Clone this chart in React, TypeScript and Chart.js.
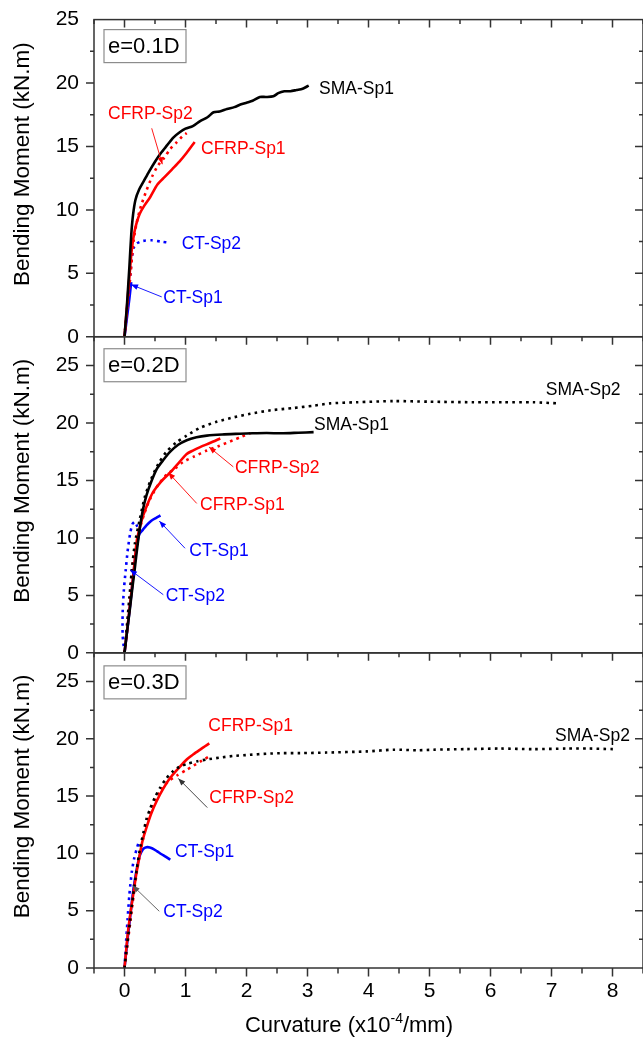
import React, { useEffect, useRef } from 'react';
import { Chart, registerables } from 'chart.js';

Chart.register(...registerables);

const FONT = '"Liberation Sans", Arial, Helvetica, sans-serif';

// ---- axes / labels ----
const xTickValues = [0, 1, 2, 3, 4, 5, 6, 7, 8];
const yTickValues = [0, 5, 10, 15, 20, 25];
const panelTitles = ['e=0.1D', 'e=0.2D', 'e=0.3D'];
const yAxisTitle = 'Bending Moment (kN.m)';
const xAxisTitleMain = 'Curvature (x10';
const xAxisTitleSup = '-4';
const xAxisTitleEnd = '/mm)';

// ---- Panel 1: e=0.1D ----
const p1SmaSp1X = [0, 0.04, 0.08, 0.11, 0.14, 0.18, 0.24, 0.32, 0.4, 0.5, 0.6, 0.7, 0.8, 0.9, 1.0, 1.12, 1.24, 1.36, 1.46, 1.56, 1.68, 1.8, 1.9, 2.0, 2.1, 2.22, 2.32, 2.44, 2.52, 2.62, 2.72, 2.82, 2.92, 3.02];
const p1SmaSp1Y = [0, 2.5, 5.5, 8.0, 9.6, 10.8, 11.6, 12.3, 13.0, 13.8, 14.5, 15.1, 15.7, 16.1, 16.4, 16.6, 17.0, 17.3, 17.7, 17.75, 17.95, 18.1, 18.3, 18.45, 18.6, 18.9, 18.9, 18.95, 19.2, 19.35, 19.35, 19.45, 19.55, 19.8];
const p1CfrpSp1X = [0, 0.04, 0.08, 0.12, 0.16, 0.2, 0.25, 0.32, 0.42, 0.54, 0.66, 0.78, 0.9, 1.02, 1.15];
const p1CfrpSp1Y = [0, 2.3, 4.7, 6.9, 8.2, 9.0, 9.7, 10.3, 11.0, 12.0, 12.6, 13.2, 13.8, 14.5, 15.35];
const p1CfrpSp2X = [0, 0.05, 0.1, 0.15, 0.2, 0.27, 0.35, 0.45, 0.55, 0.65, 0.75, 0.85, 0.95, 1.02];
const p1CfrpSp2Y = [0, 2.6, 5.0, 7.6, 9.0, 10.3, 11.4, 12.6, 13.5, 14.1, 14.8, 15.3, 15.8, 16.05];
const p1CtSp1X = [0, 0.04, 0.08, 0.11];
const p1CtSp1Y = [0, 1.5, 3.0, 4.3];
const p1CtSp2X = [0, 0.03, 0.06, 0.09, 0.12, 0.15, 0.2, 0.3, 0.45, 0.6, 0.75];
const p1CtSp2Y = [0, 1.5, 3.0, 4.6, 6.2, 7.0, 7.35, 7.55, 7.6, 7.5, 7.4];

// ---- Panel 2: e=0.2D ----
const p2SmaSp2X = [0, 0.04, 0.08, 0.12, 0.17, 0.25, 0.33, 0.42, 0.55, 0.69, 0.85, 1.02, 1.25, 1.51, 1.8, 2.06, 2.4, 2.77, 3.1, 3.37, 3.8, 4.41, 5.0, 5.72, 6.2, 6.7, 7.11];
const p2SmaSp2Y = [0, 2.4, 4.8, 7.2, 9.5, 11.6, 13.5, 14.9, 16.4, 17.5, 18.3, 18.9, 19.6, 20.1, 20.5, 20.8, 21.1, 21.3, 21.5, 21.7, 21.8, 21.9, 21.85, 21.8, 21.8, 21.8, 21.7];
const p2SmaSp1X = [0, 0.05, 0.09, 0.13, 0.17, 0.21, 0.25, 0.3, 0.36, 0.44, 0.53, 0.64, 0.75, 0.88, 1.02, 1.18, 1.35, 1.6, 1.89, 2.1, 2.33, 2.6, 2.85, 3.1];
const p2SmaSp1Y = [0, 2.2, 3.9, 5.7, 7.4, 9.2, 10.8, 12.4, 13.7, 14.9, 16.0, 16.8, 17.5, 18.1, 18.5, 18.75, 18.9, 19.0, 19.06, 19.1, 19.12, 19.1, 19.15, 19.2];
const p2CfrpSp1X = [0, 0.05, 0.12, 0.16, 0.2, 0.25, 0.31, 0.39, 0.47, 0.6, 0.75, 0.9, 1.02, 1.12, 1.24, 1.4, 1.57];
const p2CfrpSp1Y = [0, 2.3, 5.6, 7.6, 9.7, 10.9, 12.0, 13.1, 14.0, 14.9, 15.7, 16.6, 17.3, 17.6, 17.9, 18.25, 18.65];
const p2CfrpSp2X = [0, 0.06, 0.14, 0.2, 0.25, 0.33, 0.42, 0.55, 0.69, 0.82, 0.96, 1.15, 1.35, 1.55, 1.78, 1.92, 2.06];
const p2CfrpSp2Y = [0, 2.8, 7.9, 9.5, 10.8, 12.2, 13.4, 14.6, 15.5, 16.0, 16.6, 17.1, 17.6, 18.0, 18.5, 18.8, 19.1];
const p2CtSp1X = [0, 0.05, 0.1, 0.15, 0.2, 0.24, 0.3, 0.36, 0.44, 0.52, 0.59];
const p2CtSp1Y = [0, 2.2, 4.5, 7.0, 9.2, 10.3, 10.7, 11.1, 11.5, 11.75, 11.95];
const p2CtSp2X = [0, -0.03, -0.03, -0.01, 0.02, 0.05, 0.09, 0.13, 0.17, 0.2, 0.24, 0.28];
const p2CtSp2Y = [0, 1.5, 3.5, 5.5, 7.2, 8.8, 10.3, 11.2, 11.4, 11.1, 10.6, 10.1];

// ---- Panel 3: e=0.3D ----
const p3SmaSp2X = [0, 0.04, 0.09, 0.14, 0.2, 0.26, 0.31, 0.36, 0.42, 0.5, 0.58, 0.68, 0.8, 0.9, 1.02, 1.2, 1.35, 1.55, 1.78, 2.05, 2.33, 2.6, 2.88, 3.31, 3.97, 4.41, 4.8, 5.06, 5.6, 6.16, 6.7, 7.25, 7.6, 8.01];
const p3SmaSp2Y = [0, 1.9, 4.1, 6.3, 8.6, 10.6, 11.8, 13.0, 13.9, 14.9, 15.7, 16.5, 17.2, 17.55, 17.8, 18.05, 18.2, 18.35, 18.5, 18.6, 18.7, 18.75, 18.75, 18.8, 18.9, 19.05, 19.0, 19.05, 19.1, 19.15, 19.1, 19.15, 19.15, 19.1];
const p3CfrpSp1X = [0, 0.03, 0.06, 0.1, 0.14, 0.19, 0.25, 0.3, 0.36, 0.44, 0.53, 0.64, 0.75, 0.88, 1.02, 1.13, 1.24, 1.32, 1.39];
const p3CfrpSp1Y = [0, 1.7, 3.3, 4.9, 6.3, 8.1, 9.9, 11.2, 12.25, 13.5, 14.6, 15.7, 16.6, 17.4, 18.2, 18.65, 19.06, 19.35, 19.6];
const p3CfrpSp2X = [0, 0.09, 0.2, 0.31, 0.42, 0.58, 0.72, 0.86, 1.02, 1.13, 1.24, 1.32, 1.4];
const p3CfrpSp2Y = [0, 3.8, 8.3, 11.4, 13.6, 15.4, 16.3, 16.8, 17.3, 17.65, 18.0, 18.25, 18.5];
const p3CtSp1X = [0, 0.05, 0.1, 0.15, 0.2, 0.25, 0.3, 0.34, 0.38, 0.45, 0.53, 0.6, 0.68, 0.75];
const p3CtSp1Y = [0, 2.5, 4.8, 7.0, 8.6, 9.8, 10.35, 10.5, 10.55, 10.45, 10.2, 9.95, 9.7, 9.45];
const p3CtSp2X = [0, 0.02, 0.05, 0.08, 0.12, 0.16, 0.2, 0.24];
const p3CtSp2Y = [0, 1.8, 4.2, 6.4, 8.4, 9.6, 10.4, 11.1];

// ---- text labels (data coordinates of each panel) ----
type Note = { panel: number; text: string; color: string; x: number; y: number; arrow?: { color: string; from: [number, number]; to: [number, number] } };
const notes: Note[] = [
  { panel: 0, text: 'SMA-Sp1', color: '#000000', x: 3.19, y: 19.52 },
  { panel: 0, text: 'CFRP-Sp2', color: '#ff0000', x: -0.27, y: 17.56, arrow: { color: '#ff0000', from: [0.446, 16.43], to: [0.62, 13.6] } },
  { panel: 0, text: 'CFRP-Sp1', color: '#ff0000', x: 1.254, y: 14.8 },
  { panel: 0, text: 'CT-Sp2', color: '#0000ff', x: 0.938, y: 7.33 },
  { panel: 0, text: 'CT-Sp1', color: '#0000ff', x: 0.636, y: 3.01, arrow: { color: '#0000ff', from: [0.61, 3.14], to: [0.107, 4.11] } },
  { panel: 1, text: 'SMA-Sp2', color: '#000000', x: 6.905, y: 22.83 },
  { panel: 1, text: 'SMA-Sp1', color: '#000000', x: 3.107, y: 19.84 },
  { panel: 1, text: 'CFRP-Sp2', color: '#ff0000', x: 1.811, y: 16.03, arrow: { color: '#ff0000', from: [1.784, 16.18], to: [1.385, 17.91] } },
  { panel: 1, text: 'CFRP-Sp1', color: '#ff0000', x: 1.238, y: 12.86, arrow: { color: '#ff0000', from: [1.184, 13.0], to: [0.718, 15.68] } },
  { panel: 1, text: 'CT-Sp1', color: '#0000ff', x: 1.062, y: 8.81, arrow: { color: '#0000ff', from: [0.992, 9.1], to: [0.57, 11.47] } },
  { panel: 1, text: 'CT-Sp2', color: '#0000ff', x: 0.675, y: 4.91, arrow: { color: '#0000ff', from: [0.636, 5.06], to: [0.09, 7.23] } },
  { panel: 2, text: 'CFRP-Sp1', color: '#ff0000', x: 1.374, y: 21.09 },
  { panel: 2, text: 'SMA-Sp2', color: '#000000', x: 7.057, y: 20.22 },
  { panel: 2, text: 'CFRP-Sp2', color: '#ff0000', x: 1.39, y: 14.86, arrow: { color: '#333333', from: [1.357, 14.0], to: [0.882, 16.54] } },
  { panel: 2, text: 'CT-Sp1', color: '#0000ff', x: 0.828, y: 10.08 },
  { panel: 2, text: 'CT-Sp2', color: '#0000ff', x: 0.636, y: 4.87, arrow: { color: '#555555', from: [0.57, 4.95], to: [0.134, 7.19] } },
];

const BLACK = '#000000';
const RED = '#ff0000';
const BLUE = '#0000ff';
const LINE_W = 2.6;
const DOT = [2.6, 4.2];

function pts(xs: number[], ys: number[]) {
  return xs.map((x, i) => ({ x, y: ys[i] }));
}

function ds(xs: number[], ys: number[], color: string, dotted: boolean, axis: string, order: number) {
  return {
    data: pts(xs, ys),
    yAxisID: axis,
    showLine: true,
    borderColor: color,
    backgroundColor: color,
    borderWidth: LINE_W,
    borderDash: dotted ? DOT : [],
    borderCapStyle: 'butt',
    pointRadius: 0,
    pointHoverRadius: 0,
    tension: 0.25,
    fill: false,
    order,
  };
}

const panelAxes = ['y1', 'y2', 'y3'];
const boxOffsets = [10, 12, 13];

const framePlugin = {
  id: 'framePlugin',
  afterDatasetsDraw(chart: any) {
    const ctx = chart.ctx as CanvasRenderingContext2D;
    const area = chart.chartArea;
    const xs = chart.scales.x;
    ctx.save();
    ctx.strokeStyle = '#333333';
    ctx.lineWidth = 1.5;
    const xMinor: number[] = [];
    for (let v = -0.5; v <= 8.5001; v += 0.5) xMinor.push(Math.round(v * 10) / 10);
    panelAxes.forEach((id, p) => {
      const ys = chart.scales[id];
      const top = ys.top;
      const bottom = ys.bottom;
      ctx.strokeStyle = '#333333';
      ctx.lineWidth = 1.5;
      ctx.strokeRect(area.left, top, area.right - area.left, bottom - top);
      ctx.beginPath();
      for (let v = 2.5; v <= ys.max + 0.001; v += 2.5) {
        const py = ys.getPixelForValue(v);
        if (py < top + 1) continue;
        const major = Math.abs(v % 5) < 0.001;
        const len = major ? 8 : 4;
        ctx.moveTo(area.left - len, py);
        ctx.lineTo(area.left, py);
        ctx.moveTo(area.right, py);
        ctx.lineTo(area.right - len, py);
      }
      ctx.moveTo(area.left - 8, bottom);
      ctx.lineTo(area.left, bottom);
      for (const v of xMinor) {
        const px = xs.getPixelForValue(v);
        const major = Math.abs(v - Math.round(v)) < 0.001;
        const len = major ? 8 : 4.5;
        ctx.moveTo(px, top);
        ctx.lineTo(px, top + len);
        if (p === 2) {
          ctx.moveTo(px, bottom);
          ctx.lineTo(px, bottom + (major ? 8.5 : 5.5));
        }
      }
      ctx.stroke();

      // y axis title (rotated)
      ctx.save();
      ctx.fillStyle = '#000000';
      ctx.font = `22.5px ${FONT}`;
      ctx.textAlign = 'center';
      ctx.textBaseline = 'middle';
      ctx.translate(22.5, (top + bottom) / 2 - 14);
      ctx.rotate(-Math.PI / 2);
      ctx.fillText(yAxisTitle, 0, 0);
      ctx.restore();

      // title box
      const bx = area.left + 10;
      const by = top + boxOffsets[p];
      ctx.fillStyle = '#ffffff';
      ctx.fillRect(bx, by, 82, 33);
      ctx.strokeStyle = '#8c8c8c';
      ctx.lineWidth = 1.2;
      ctx.strokeRect(bx, by, 82, 33);
      ctx.fillStyle = '#000000';
      ctx.font = `22px ${FONT}`;
      ctx.textAlign = 'left';
      ctx.textBaseline = 'middle';
      ctx.fillText(panelTitles[p], bx + 4, by + 17);
    });

    // notes
    ctx.font = `17.5px ${FONT}`;
    ctx.textAlign = 'left';
    ctx.textBaseline = 'middle';
    for (const n of notes) {
      const ys = chart.scales[panelAxes[n.panel]];
      ctx.fillStyle = n.color;
      ctx.fillText(n.text, xs.getPixelForValue(n.x), ys.getPixelForValue(n.y));
      if (n.arrow) {
        const x0 = xs.getPixelForValue(n.arrow.from[0]);
        const y0 = ys.getPixelForValue(n.arrow.from[1]);
        const x1 = xs.getPixelForValue(n.arrow.to[0]);
        const y1 = ys.getPixelForValue(n.arrow.to[1]);
        ctx.strokeStyle = n.arrow.color;
        ctx.fillStyle = n.arrow.color;
        ctx.lineWidth = 0.9;
        ctx.beginPath();
        ctx.moveTo(x0, y0);
        ctx.lineTo(x1, y1);
        ctx.stroke();
        const a = Math.atan2(y1 - y0, x1 - x0);
        const L = 7;
        const W = 2.8;
        ctx.beginPath();
        ctx.moveTo(x1, y1);
        ctx.lineTo(x1 - L * Math.cos(a) + W * Math.sin(a), y1 - L * Math.sin(a) - W * Math.cos(a));
        ctx.lineTo(x1 - L * Math.cos(a) - W * Math.sin(a), y1 - L * Math.sin(a) + W * Math.cos(a));
        ctx.closePath();
        ctx.fill();
      }
    }

    // x axis title with superscript
    ctx.fillStyle = '#000000';
    ctx.textBaseline = 'alphabetic';
    ctx.textAlign = 'left';
    ctx.font = `22px ${FONT}`;
    const w1 = ctx.measureText(xAxisTitleMain).width;
    const w3 = ctx.measureText(xAxisTitleEnd).width;
    ctx.font = `14px ${FONT}`;
    const w2 = ctx.measureText(xAxisTitleSup).width;
    const total = w1 + w2 + w3;
    const cx = 349;
    const base = 1031.5;
    let x = cx - total / 2;
    ctx.font = `22px ${FONT}`;
    ctx.fillText(xAxisTitleMain, x, base);
    x += w1;
    ctx.font = `14px ${FONT}`;
    ctx.fillText(xAxisTitleSup, x, base - 9);
    x += w2;
    ctx.font = `22px ${FONT}`;
    ctx.fillText(xAxisTitleEnd, x, base);
    ctx.restore();
  },
};

function yScale(max: number, weight: number, stackWeight: number) {
  return {
    type: 'linear',
    position: 'left',
    stack: 'panels',
    stackWeight,
    weight,
    min: 0,
    max,
    afterBuildTicks: (s: any) => {
      s.ticks = yTickValues.map((v) => ({ value: v }));
    },
    afterFit: (s: any) => {
      s.width = 94;
    },
    grid: { display: true, drawOnChartArea: false, drawTicks: true, tickLength: 8, color: 'rgba(0,0,0,0)' },
    border: { display: false },
    ticks: { color: '#000000', padding: 7, font: { size: 21, family: FONT } },
    title: { display: false },
  };
}

export default function App() {
  const ref = useRef<HTMLCanvasElement | null>(null);
  useEffect(() => {
    if (!ref.current) return;
    const chart = new Chart(ref.current, {
      type: 'scatter',
      data: {
        datasets: [
          ds(p1CtSp2X, p1CtSp2Y, BLUE, true, 'y1', 5),
          ds(p1CtSp1X, p1CtSp1Y, BLUE, false, 'y1', 4),
          ds(p1CfrpSp2X, p1CfrpSp2Y, RED, true, 'y1', 3),
          ds(p1CfrpSp1X, p1CfrpSp1Y, RED, false, 'y1', 2),
          ds(p1SmaSp1X, p1SmaSp1Y, BLACK, false, 'y1', 0),
          ds(p2CtSp2X, p2CtSp2Y, BLUE, true, 'y2', 5),
          ds(p2CtSp1X, p2CtSp1Y, BLUE, false, 'y2', 4),
          ds(p2CfrpSp2X, p2CfrpSp2Y, RED, true, 'y2', 3),
          ds(p2CfrpSp1X, p2CfrpSp1Y, RED, false, 'y2', 2),
          ds(p2SmaSp2X, p2SmaSp2Y, BLACK, true, 'y2', 1),
          ds(p2SmaSp1X, p2SmaSp1Y, BLACK, false, 'y2', 0),
          ds(p3CtSp2X, p3CtSp2Y, BLUE, true, 'y3', 5),
          ds(p3CtSp1X, p3CtSp1Y, BLUE, false, 'y3', 4),
          ds(p3CfrpSp2X, p3CfrpSp2Y, RED, true, 'y3', 3),
          ds(p3CfrpSp1X, p3CfrpSp1Y, RED, false, 'y3', 2),
          ds(p3SmaSp2X, p3SmaSp2Y, BLACK, true, 'y3', 1),
        ] as any,
      },
      options: {
        animation: false,
        responsive: false,
        devicePixelRatio: 1,
        layout: { padding: { top: 17, left: 0, right: 0, bottom: 0 } },
        plugins: { legend: { display: false }, tooltip: { enabled: false } },
        events: [],
        scales: {
          x: {
            type: 'linear',
            position: 'bottom',
            min: -0.5,
            max: 8.5,
            afterBuildTicks: (s: any) => {
              s.ticks = xTickValues.map((v) => ({ value: v }));
            },
            afterFit: (s: any) => {
              s.height = 72;
            },
            grid: { display: true, drawOnChartArea: false, drawTicks: true, tickLength: 8, color: 'rgba(0,0,0,0)' },
            border: { display: false },
            ticks: { color: '#000000', padding: 3, maxRotation: 0, font: { size: 21, family: FONT } },
            title: { display: false },
          },
          y1: yScale(25, 3, 318),
          y2: yScale(27.5, 2, 317),
          y3: yScale(27.5, 1, 316),
        } as any,
      },
      plugins: [framePlugin],
    });
    return () => chart.destroy();
  }, []);
  return (
    <div style={{ position: 'fixed', left: 0, top: 0, width: 643, height: 1040, background: '#ffffff' }}>
      <canvas ref={ref} width={643} height={1040} style={{ display: 'block', width: 643, height: 1040 }} />
    </div>
  );
}
